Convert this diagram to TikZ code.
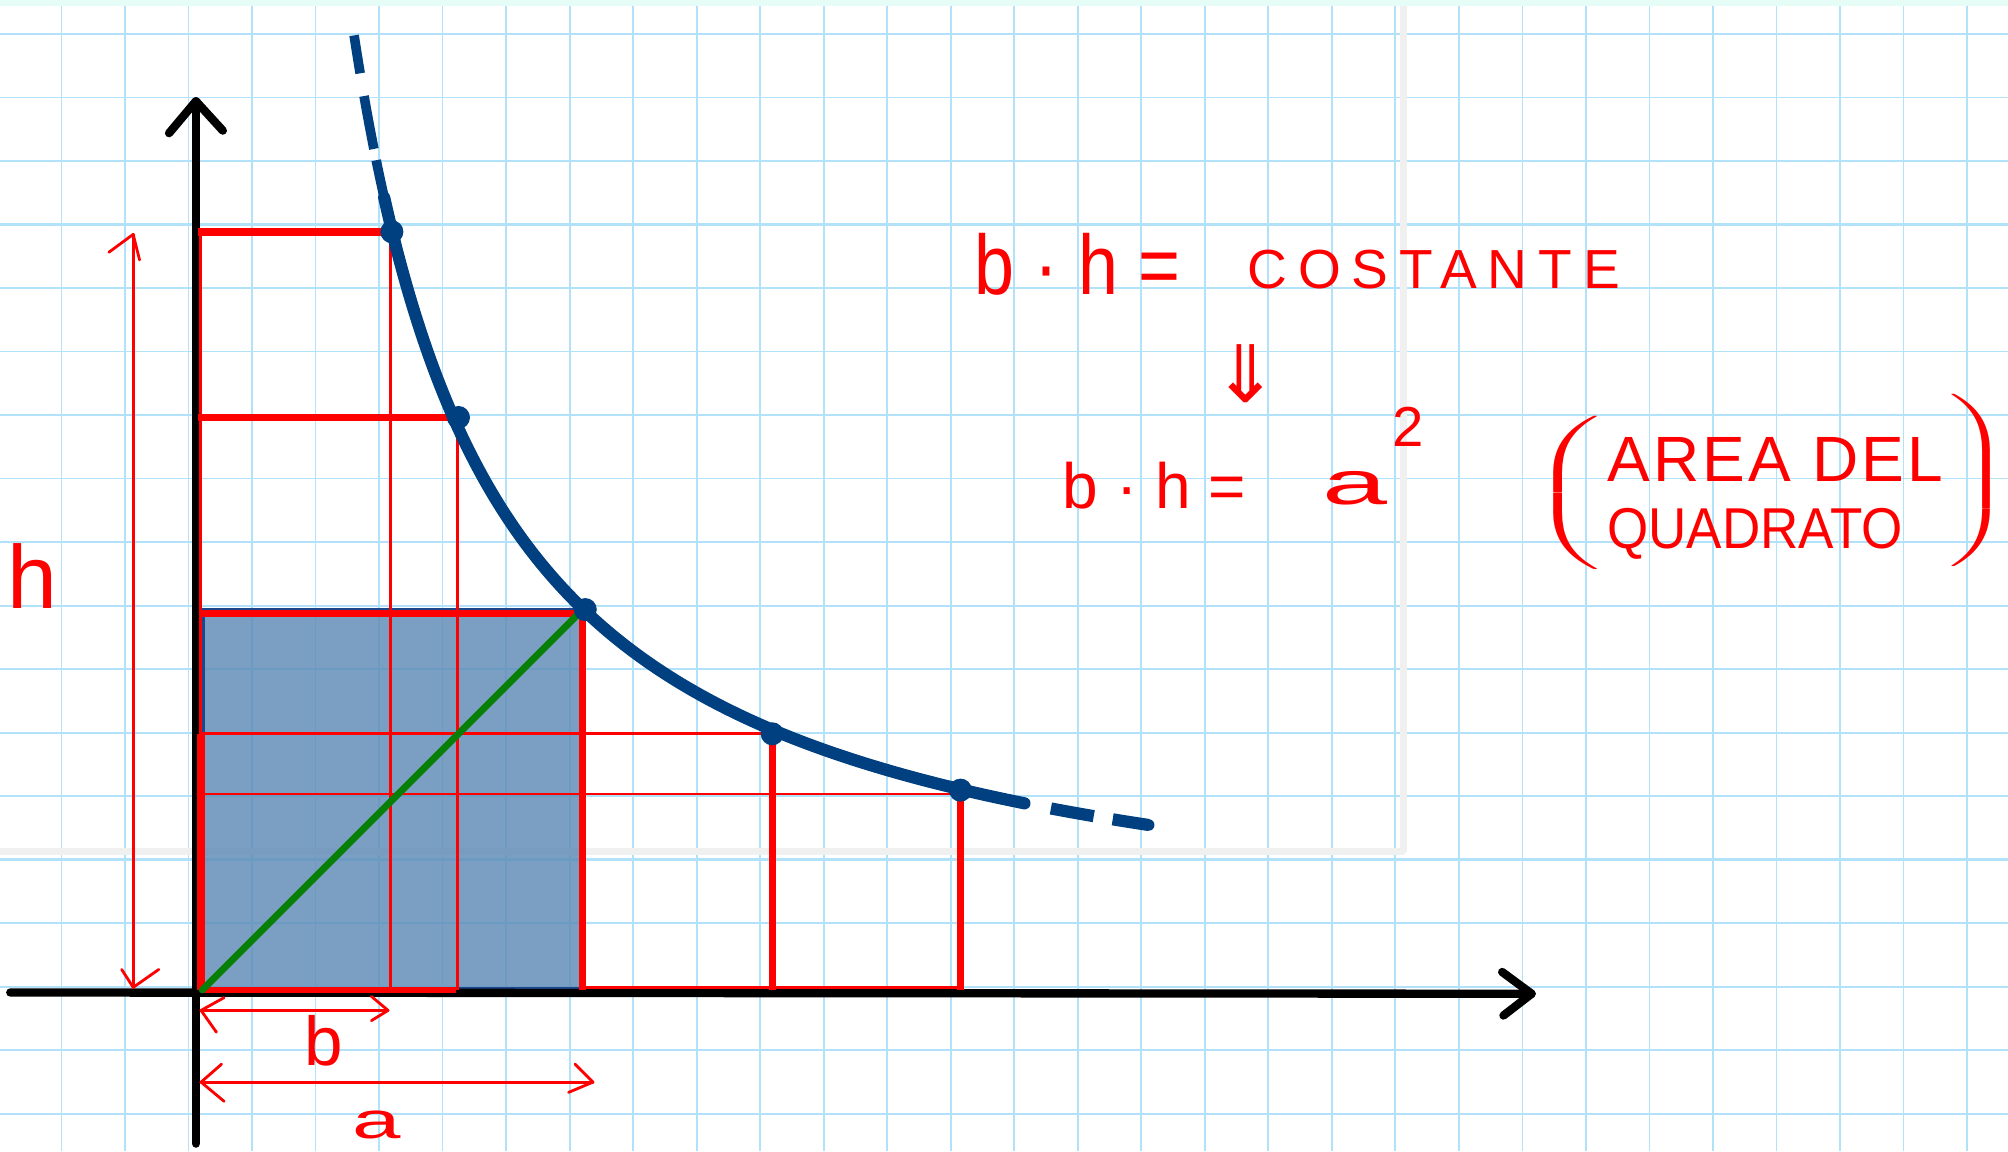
\documentclass[tikz,border=0pt]{standalone}
\usepackage{amsmath}
\usepackage{fontspec}
\usepackage{graphicx}
\newfontfamily\hand{Liberation Sans}
\newfontfamily\handsp[LetterSpace=20]{Liberation Sans}
\newfontfamily\handspb[LetterSpace=5]{Liberation Sans}
\newfontfamily\symf{DejaVu Sans}
\definecolor{gridc}{RGB}{178,226,250}
\definecolor{bordc}{RGB}{240,240,240}
\definecolor{mintc}{RGB}{230,252,246}
\definecolor{sqc}{RGB}{90,136,181}
\definecolor{sqedge}{RGB}{30,70,140}
\definecolor{curvec}{RGB}{0,64,128}
\definecolor{greenc}{RGB}{8,128,8}
\definecolor{redc}{RGB}{255,0,0}
\begin{document}
\begin{tikzpicture}[x=1pt,y=-1pt,
  gridl/.style={draw=gridc, line width=1.4},
  gridm/.style={draw=gridc, line width=2.0},
  redthick/.style={draw=redc, line width=6},
  redthin/.style={draw=redc, line width=2.2},
  axisl/.style={draw=black, line width=6.5, line cap=round, line join=round},
  curvel/.style={draw=curvec, line width=9.5, line join=round},
  dotc/.style={fill=curvec},
  dimarrow/.style={draw=redc, line width=2.2, line cap=round, line join=round},
  hw/.style={text=redc, inner sep=0pt, outer sep=0pt},
]
\useasboundingbox (0,0) rectangle (1568,899);
\fill[white] (0,0) rectangle (1568,899);
% grid
\foreach \k in {0,...,30} \draw[gridl] ({48+49.6*\k},0) -- ({48+49.6*\k},899);
\foreach \k in {0,...,17} \draw[gridl] (0,{26.5+49.6*\k}) -- (1568,{26.5+49.6*\k});
\foreach \k in {3,8,13} \draw[gridm] (0,{26.5+49.6*\k}) -- (1568,{26.5+49.6*\k});
% top strip and page border
\fill[mintc] (0,0) rectangle (1568,4.5);
\draw[draw=bordc, line width=6, line join=bevel] (0,665) -- (1096,665) -- (1096,4.5);
% key points
\coordinate (O) at (155,775);
\coordinate (P1) at (306,181);
\coordinate (P2) at (358,326);
\coordinate (P3) at (457,476);
\coordinate (P4) at (603,573);
\coordinate (P5) at (750,617);
% square
\fill[sqc, fill opacity=0.8] (159,476) rectangle (454,772);
\draw[draw=sqedge, line width=2] (159,476) rectangle (454,772);
% axes
\coordinate (xs) at (8,775);
\coordinate (xe) at (1196,776);
\coordinate (ys) at (153,893);
\coordinate (ye) at (153,79);
\draw[axisl] (xs) -- (xe);
\draw[axisl] (1173,759) -- (xe) -- (1174,793);
\draw[axisl] (ys) -- (ye);
\draw[axisl] (132,104) -- (ye) -- (174,102);
% red rectangles
\draw[redthin] (156.5,181) -- (156.5,773);
\draw[redthin] (305,181) -- (305,773);
\draw[redthin] (357,326) -- (357,773);
\draw[redthin] (157,573) -- (603,573);
\draw[redthin] (157,620) -- (750,620);
\draw[redthin] (455,771) -- (750,771);
\draw[redthick] (155,181) -- (P1);
\draw[redthick] (155,326) -- (P2);
\draw[redthick, line width=5] (158,479) -- (455,479) -- (455,773);
\draw[redthick, line width=5.5] (P4) -- (603,773);
\draw[redthick, line width=5.5] (P5) -- (750,773);
\draw[redthick] (157,573) -- (157,773);
\draw[redthick, line width=5] (157,773) -- (356,773);
% green diagonal
\draw[draw=greenc, line width=5.5, line cap=round] (158,773) -- (452,479);
% hyperbola  y = 755 - 81100/(x-165)
\draw[curvel, line width=7.5, dash pattern=on 30pt off 18pt on 42pt off 9pt on 80pt]
  plot[domain=276.5:301, samples=30, smooth] (\x, {755-100*(811/(\x-165))});
\draw[curvel, line cap=round]
  plot[domain=300:800, samples=120, smooth] (\x, {755-100*(811/(\x-165))});
\draw[curvel, dash pattern=on 0pt off 21pt on 34pt off 15pt on 60pt]
  plot[domain=800:897, samples=20, smooth] (\x, {755-100*(811/(\x-165))});
\fill[curvec] (897,{755-100*(811/(897-165))}) circle (4.5);
\foreach \p in {P1,P2,P3,P4,P5} \fill[dotc] (\p) circle (9);
% dimension arrows
\coordinate (ht) at (104,183);
\coordinate (hb) at (104,771);
\draw[dimarrow] (ht) -- (hb);
\draw[dimarrow] (85,197) -- (ht) -- (109,203);
\draw[dimarrow] (95,757) -- (hb) -- (124,757);
\coordinate (bl) at (157,789);
\coordinate (br) at (303,789);
\draw[dimarrow] (bl) -- (br);
\draw[dimarrow] (175,779) -- (bl) -- (169,806);
\draw[dimarrow] (290,778) -- (br) -- (290,797);
\coordinate (al) at (157,845);
\coordinate (ar) at (463,845);
\draw[dimarrow] (al) -- (ar);
\draw[dimarrow] (173,831) -- (al) -- (175,860);
\draw[dimarrow] (449,831) -- (ar) -- (444,853);
% labels
\node[hw, anchor=base] (hlab) at (25,475) {\hand\fontsize{70}{74}\selectfont h};
\node[hw, anchor=base] (blab) at (253,832) {\hand\fontsize{54}{58}\selectfont b};
\node[hw, anchor=base] (alab) at (294,889) {\hand\fontsize{40}{44}\selectfont\scalebox{1.7}[1]{a}};
% formulas
\node[hw, anchor=base west] (eq1) at (761,230) {\hand\fontsize{66}{70}\selectfont\scalebox{0.85}[1]{b · h =}};
\node[hw, anchor=base west] (cost) at (974,225) {\handsp\fontsize{43}{47}\selectfont COSTANTE};
\node[hw] (impl) at (973,292) {\symf\fontsize{62}{66}\selectfont ⇓};
\node[hw, anchor=base west] (eq2) at (830,397) {\hand\fontsize{50}{54}\selectfont b · h =};
\node[hw, anchor=base] (asq) at (1058,394) {\hand\fontsize{48}{52}\selectfont\scalebox{1.9}[1]{a}};
\node[hw, anchor=base west] (two) at (1087,349) {\hand\fontsize{44}{48}\selectfont 2};
\node[hw] (lpar) at (1224,385) {\fontsize{34}{40}\selectfont\scalebox{2.5}[1]{$\left(\vcenter{\hbox{\rule{0pt}{116pt}}}\right.$}};
\node[hw] (rpar) at (1545,375) {\fontsize{34}{40}\selectfont\scalebox{2.2}[1]{$\left.\vcenter{\hbox{\rule{0pt}{126pt}}}\right)$}};
\node[hw, anchor=base west] (area) at (1255,376) {\handspb\fontsize{50}{54}\selectfont AREA DEL};
\node[hw, anchor=base west] (quad) at (1255,428) {\hand\fontsize{45}{49}\selectfont\scalebox{0.92}[1]{QUADRATO}};
\end{tikzpicture}
\end{document}
